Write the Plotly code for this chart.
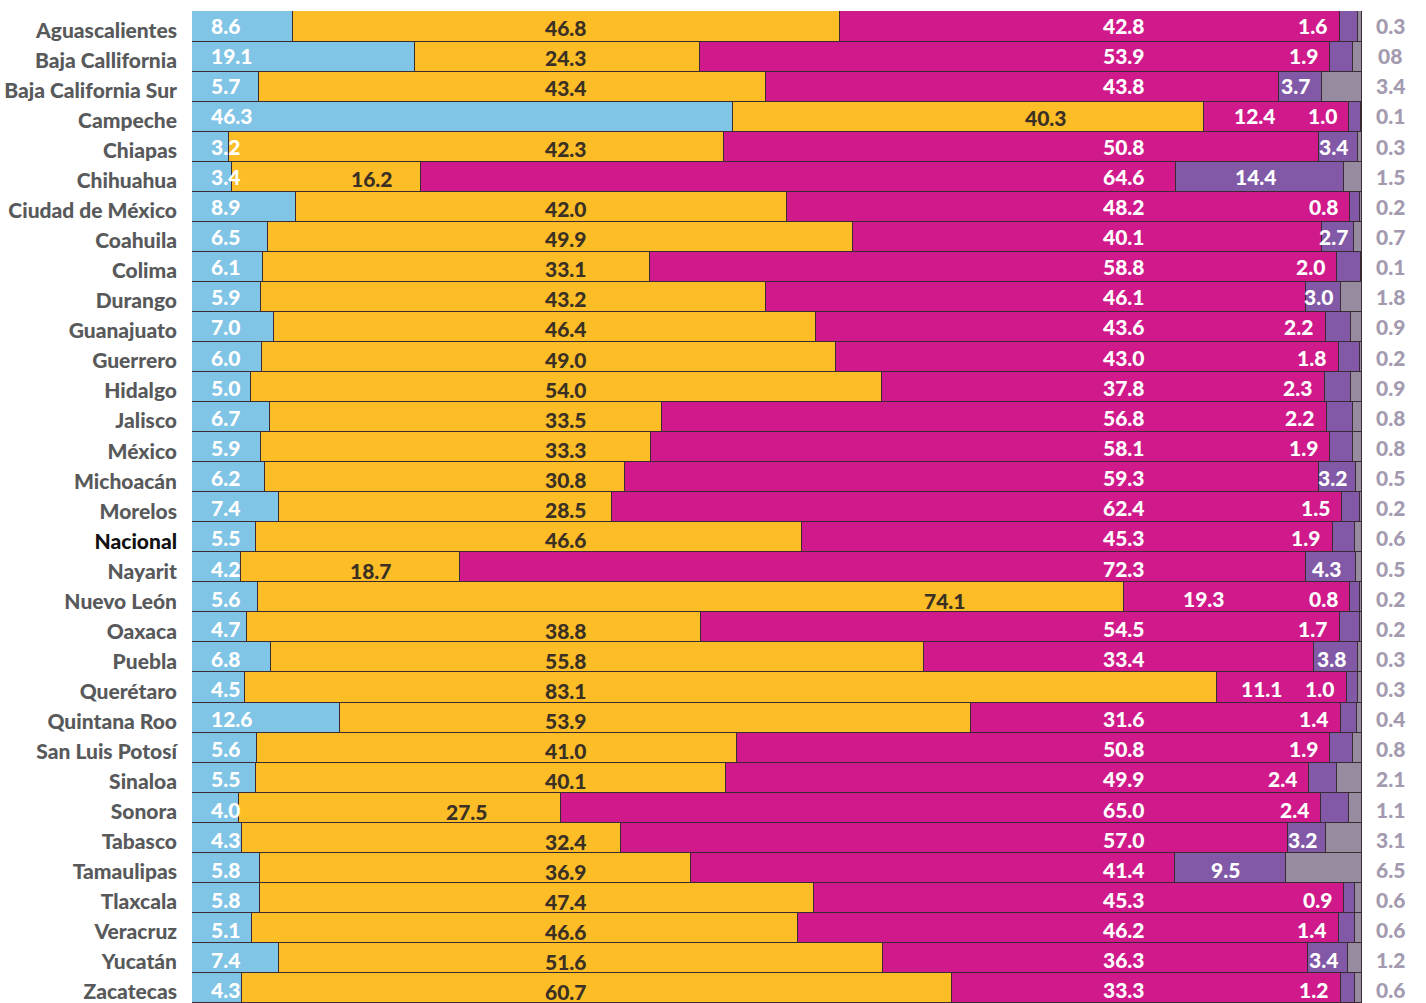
import plotly.graph_objects as go

# Share of each state across five groups (percent)
states = [
    "Aguascalientes", "Baja Callifornia", "Baja California Sur", "Campeche", "Chiapas",
    "Chihuahua", "Ciudad de México", "Coahuila", "Colima", "Durango", "Guanajuato",
    "Guerrero", "Hidalgo", "Jalisco", "México", "Michoacán", "Morelos", "Nacional",
    "Nayarit", "Nuevo León", "Oaxaca", "Puebla", "Querétaro", "Quintana Roo",
    "San Luis Potosí", "Sinaloa", "Sonora", "Tabasco", "Tamaulipas", "Tlaxcala",
    "Veracruz", "Yucatán", "Zacatecas",
]
serie_azul = [8.6, 19.1, 5.7, 46.3, 3.2, 3.4, 8.9, 6.5, 6.1, 5.9, 7.0, 6.0, 5.0, 6.7, 5.9, 6.2,
              7.4, 5.5, 4.2, 5.6, 4.7, 6.8, 4.5, 12.6, 5.6, 5.5, 4.0, 4.3, 5.8, 5.8, 5.1, 7.4, 4.3]
serie_amarilla = [46.8, 24.3, 43.4, 40.3, 42.3, 16.2, 42.0, 49.9, 33.1, 43.2, 46.4, 49.0, 54.0,
                  33.5, 33.3, 30.8, 28.5, 46.6, 18.7, 74.1, 38.8, 55.8, 83.1, 53.9, 41.0, 40.1,
                  27.5, 32.4, 36.9, 47.4, 46.6, 51.6, 60.7]
serie_magenta = [42.8, 53.9, 43.8, 12.4, 50.8, 64.6, 48.2, 40.1, 58.8, 46.1, 43.6, 43.0, 37.8,
                 56.8, 58.1, 59.3, 62.4, 45.3, 72.3, 19.3, 54.5, 33.4, 11.1, 31.6, 50.8, 49.9,
                 65.0, 57.0, 41.4, 45.3, 46.2, 36.3, 33.3]
serie_morada = [1.6, 1.9, 3.7, 1.0, 3.4, 14.4, 0.8, 2.7, 2.0, 3.0, 2.2, 1.8, 2.3, 2.2, 1.9, 3.2,
                1.5, 1.9, 4.3, 0.8, 1.7, 3.8, 1.0, 1.4, 1.9, 2.4, 2.4, 3.2, 9.5, 0.9, 1.4, 3.4, 1.2]
serie_gris = [0.3, 0.8, 3.4, 0.1, 0.3, 1.5, 0.2, 0.7, 0.1, 1.8, 0.9, 0.2, 0.9, 0.8, 0.8, 0.5,
              0.2, 0.6, 0.5, 0.2, 0.2, 0.3, 0.3, 0.4, 0.8, 2.1, 1.1, 3.1, 6.5, 0.6, 0.6, 1.2, 0.6]

# Printed text for the outer column where it differs from the plain value
texto_gris_especial = {"Baja Callifornia": "08"}

series = [serie_azul, serie_amarilla, serie_magenta, serie_morada, serie_gris]
colores = ["#80c4e6", "#fdbd27", "#d0198a", "#8159a7", "#978ba0"]
borde = "#3a2a33"

# Hand-placed positions (percent axis) for yellow labels that leave the usual column
pos_amarilla = {"Campeche": 73.0, "Chihuahua": 15.4, "Nayarit": 15.3,
                "Nuevo León": 64.4, "Sonora": 23.5}

FONT = "Lato"
fig = go.Figure()
for vals, col in zip(series, colores):
    fig.add_bar(
        y=states, x=vals, orientation="h", showlegend=False,
        marker=dict(color=col, line=dict(color=borde, width=1)),
        hoverinfo="x+y",
    )

ticktext = [f'<span style="color:#111111">{s}</span>' if s == "Nacional" else s for s in states]


def ann(x, y, text, color, anchor="center", yshift=0, xref="x"):
    fig.add_annotation(x=x, y=y, xref=xref, yref="y", text=text, showarrow=False,
                       xanchor=anchor, yanchor="middle", yshift=yshift,
                       font=dict(family=FONT, size=21, color=color, weight=900))


n = len(states)
for i, s in enumerate(states):
    vals = [ser[i] for ser in series]
    total = sum(vals)
    v = [100 * a / total for a in vals]
    c1 = v[0]
    c2 = c1 + v[1]
    c3 = c2 + v[2]
    c4 = c3 + v[3]
    # labels sit a little lower toward the bottom of the list
    dy = 1 - 3 * i / (n - 1)

    # light blue: fixed left inset
    ann(1.45, s, f"{vals[0]:.1f}", "#ffffff", anchor="left", yshift=dy)

    # yellow
    ann(pos_amarilla.get(s, 32.0), s, f"{vals[1]:.1f}", "#3a3024", yshift=dy - 2)

    # magenta
    xm = 79.7 if c2 < 75 else c2 + 0.35 * v[2]
    ann(xm, s, f"{vals[2]:.1f}", "#ffffff", yshift=dy)

    # purple: inside when wide enough, otherwise tucked at the end of magenta
    if vals[3] >= 2.5:
        ann((c3 + c4) / 2 - 0.4, s, f"{vals[3]:.1f}", "#ffffff", yshift=dy)
    else:
        ann(c3 - 0.9, s, f"{vals[3]:.1f}", "#ffffff", anchor="right", yshift=dy)

    # grey value printed outside the bar
    ann(1.024, s, texto_gris_especial.get(s, f"{vals[4]:.1f}"), "#a39ab0", xref="paper",
        yshift=dy)

fig.update_layout(
    barmode="stack", barnorm="percent", bargap=0,
    width=1426, height=1003,
    margin=dict(l=192, r=64, t=11, b=0),
    plot_bgcolor="#ffffff", paper_bgcolor="#ffffff",
    xaxis=dict(range=[0, 100], visible=False, fixedrange=True),
    yaxis=dict(
        type="category", categoryorder="array", categoryarray=states,
        autorange="reversed", tickvals=states, ticktext=ticktext,
        tickfont=dict(family=FONT, size=21, color="#58595b", weight=900),
        ticks="", ticklabelstandoff=14, ticklabelshift=-4,
        showgrid=False, zeroline=False, showline=False,
    ),
)

fig.write_html("out.html")
